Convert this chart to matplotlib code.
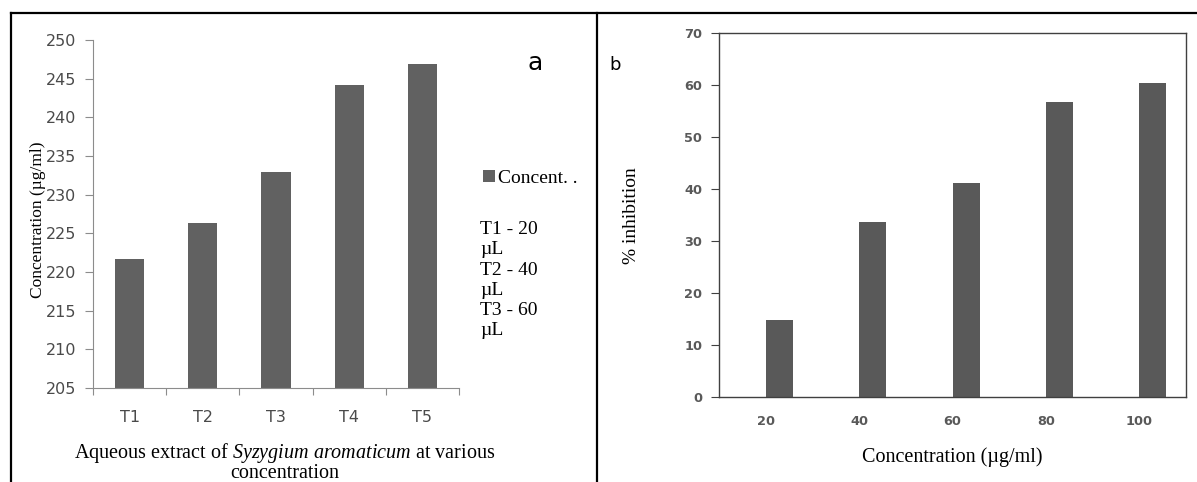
import matplotlib

matplotlib.use("Agg")

import matplotlib.pyplot as plt
import numpy as np
from matplotlib.lines import Line2D

# panel a: concentration per treatment
treatments = ["T1", "T2", "T3", "T4", "T5"]
concent = [221.7, 226.3, 232.9, 244.2, 246.9]

# panel b: % inhibition per concentration
conc_levels = ["20", "40", "60", "80", "100"]
inhibition = [14.9, 33.6, 41.2, 56.8, 60.4]

legend_notes = "T1 - 20\nµL\nT2 - 40\nµL\nT3 - 60\nµL"

W, H = 1197, 482
BAR_A = "#616161"
BAR_B = "#595959"
TICK_GRAY = "#4a4a4a"
SERIF = "Liberation Serif"

plt.rcParams["mathtext.fontset"] = "custom"
plt.rcParams["mathtext.rm"] = "Liberation Serif"
plt.rcParams["mathtext.it"] = "Liberation Serif:italic"


def px_box(x0, y0, x1, y1):
    return [x0 / W, 1 - y1 / H, (x1 - x0) / W, (y1 - y0) / H]


fig = plt.figure(figsize=(W / 100, H / 100), dpi=100)

# outer frame lines of the composite figure
for xs, ys in [((11, W), (13, 13)), ((11, 11), (13, H)), ((597, 597), (13, H))]:
    fig.add_artist(Line2D([x / W for x in xs], [1 - y / H for y in ys],
                          color="black", lw=1.6, transform=fig.transFigure))

# ---- panel a
ax = fig.add_axes(px_box(93, 40, 459, 388))
xa = np.arange(len(treatments))
ax.bar(xa, [v - 205 for v in concent], bottom=205, width=0.4, color=BAR_A,
       label="Concent. .")
ax.set_xlim(-0.5, len(treatments) - 0.5)
ax.set_ylim(205, 250)
ax.set_yticks(np.arange(205, 251, 5))
ax.set_xticks(np.arange(-0.5, len(treatments), 1.0))
ax.set_xticklabels([])
ax.set_xticks(xa, minor=True)
ax.set_xticklabels(treatments, minor=True)
ax.tick_params(axis="x", which="major", length=5, color="#8c8c8c", direction="out")
ax.tick_params(axis="x", which="minor", length=0, pad=16, labelsize=11.5,
               labelcolor=TICK_GRAY)
ax.tick_params(axis="y", length=6, color="#8c8c8c", pad=6, labelsize=11.5,
               labelcolor=TICK_GRAY)
for s in ("top", "right"):
    ax.spines[s].set_visible(False)
for s in ("left", "bottom"):
    ax.spines[s].set_color("#8c8c8c")
ax.set_ylabel("Concentration (µg/ml)", family=SERIF, fontsize=12.5, va="center")
ax.yaxis.set_label_coords(-0.15, 0.484)
ax.set_xlabel("Aqueous extract of $Syzygium\\ aromaticum$ at various\nconcentration",
              family=SERIF, fontsize=14.5, linespacing=0.95, va="center")
ax.xaxis.set_label_coords(0.525, -0.213)
ax.legend(loc="center left", bbox_to_anchor=(1.066, 0.603), frameon=False,
          handlelength=0.6, handleheight=0.6, handletextpad=0.15, borderaxespad=0,
          borderpad=0, prop={"family": SERIF, "size": 14})
ax.text(1.057, 0.31, legend_notes, transform=ax.transAxes, family=SERIF,
        fontsize=14, va="center", ha="left", linespacing=1.24)
ax.text(1.207, 0.935, "a", transform=ax.transAxes, fontsize=18, va="center",
        ha="center", family="DejaVu Sans")

# ---- panel b
bx = fig.add_axes(px_box(719, 33, 1186, 397))
xb = np.arange(len(conc_levels))
bx.bar(xb, inhibition, width=0.29, align="edge", color=BAR_B)
bx.set_xlim(-0.5, len(conc_levels) - 0.5)
bx.set_ylim(0, 70)
bx.set_yticks(np.arange(0, 71, 10))
bx.set_xticks(xb)
bx.set_xticklabels(conc_levels)
bx.tick_params(axis="x", length=0, pad=13)
bx.tick_params(axis="y", length=6, pad=6, color="#404040")
for lab in bx.get_xticklabels() + bx.get_yticklabels():
    lab.set_fontweight("bold")
    lab.set_fontsize(9.3)
    lab.set_color("#595959")
for s in bx.spines.values():
    s.set_color("#404040")
    s.set_linewidth(1.0)
bx.set_ylabel("% inhibition", family=SERIF, fontsize=14, va="center")
bx.yaxis.set_label_coords(-0.188, 0.499)
bx.set_xlabel("Concentration (µg/ml)", family=SERIF, fontsize=14.5, va="center")
bx.xaxis.set_label_coords(0.5, -0.165)
fig.text(615 / W, 1 - 65 / H, "b", fontsize=13, va="center", ha="center",
         family="DejaVu Sans")

fig.savefig("out.png", dpi=100)
